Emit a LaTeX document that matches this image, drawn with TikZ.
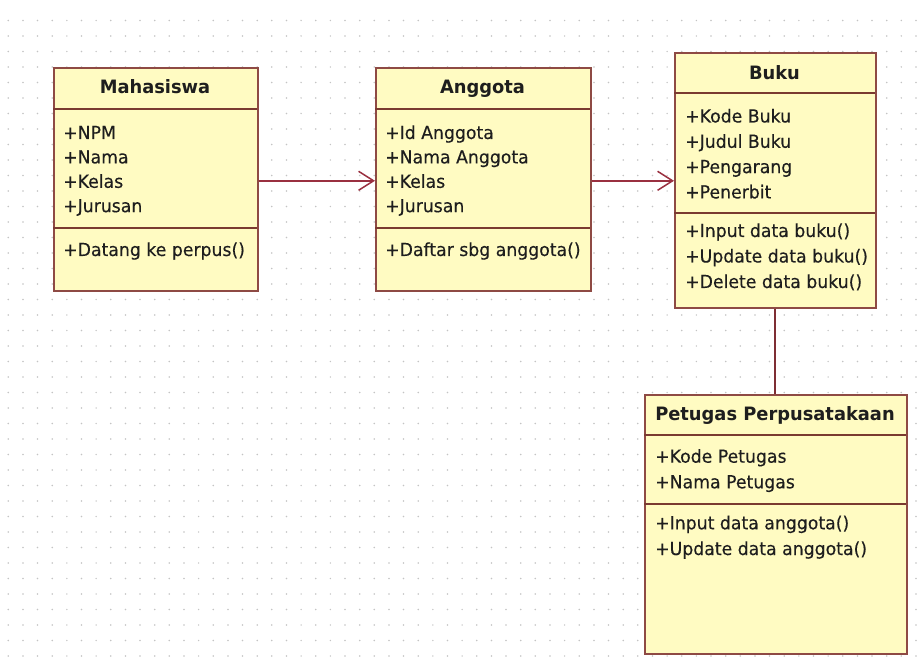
\documentclass[tikz,border=0pt]{standalone}
\usepackage{fontspec}
\setmainfont{DejaVu Sans}
\newfontfamily\memberfont[FakeStretch=0.96,FakeBold=0.3]{DejaVu Sans}
\newfontfamily\titlefont[FakeStretch=0.97]{DejaVu Sans Bold}
\usetikzlibrary{arrows.meta}

\definecolor{umlfill}{HTML}{FFFBC2}
\definecolor{umlborder}{HTML}{8E4A44}
\definecolor{umlsep}{HTML}{7A3A30}
\definecolor{umlline}{HTML}{9A3040}
\definecolor{umllink}{HTML}{7E2E34}
\definecolor{umltext}{HTML}{1E1E1E}
\definecolor{griddot}{HTML}{C4C4C4}

\tikzset{
  classbox/.style={draw=umlborder, fill=umlfill, line width=1.6pt, inner sep=0pt,
    anchor=north west, rectangle},
  sepline/.style={draw=umlsep, line width=1.6pt},
  classname/.style={font=\fontsize{18.4}{21}\titlefont, text=umltext,
    inner sep=0pt, anchor=base},
  member/.style={font=\fontsize{18}{21}\memberfont, text=umltext,
    inner sep=0pt, anchor=base west},
  assoc/.style={draw=umlline, line width=1.5pt},
  navarrow/.style={assoc, -{Straight Barb[length=15pt,width=19pt,line width=1.5pt]}}
}

\begin{document}
\begin{tikzpicture}[x=1pt,y=-1pt]
  % canvas and dotted grid
  \fill[white] (0,0) rectangle (922,668);
  \useasboundingbox (0,0) rectangle (922,668);
  \foreach \i in {0,...,62}{
    \foreach \j in {0,...,41}{
      \fill[griddot] (8.3+14.64*\i, 20.5+15.5*\j) circle (0.85pt);
    }
  }

  % class Mahasiswa
  \node[classbox, minimum width=204pt, minimum height=223pt] (mhs) at (53,67) {};
  \draw[sepline] (53,109) -- (257,109);
  \draw[sepline] (53,228) -- (257,228);
  \node[classname] (mhsT) at (155,94) {Mahasiswa};
  \node[member] (mhs1) at (63,139) {+NPM};
  \node[member] (mhs2) at (63,163.4) {+Nama};
  \node[member] (mhs3) at (63,187.8) {+Kelas};
  \node[member] (mhs4) at (63,212.2) {+Jurusan};
  \node[member] (mhs5) at (63,256) {+Datang ke perpus()};

  % class Anggota
  \node[classbox, minimum width=215pt, minimum height=223pt] (agt) at (375,67) {};
  \draw[sepline] (375,109) -- (590,109);
  \draw[sepline] (375,228) -- (590,228);
  \node[classname] (agtT) at (482.5,94) {Anggota};
  \node[member] (agt1) at (385,139) {+Id Anggota};
  \node[member] (agt2) at (385,163.4) {+Nama Anggota};
  \node[member] (agt3) at (385,187.8) {+Kelas};
  \node[member] (agt4) at (385,212.2) {+Jurusan};
  \node[member] (agt5) at (385,256) {+Daftar sbg anggota()};

  % class Buku
  \node[classbox, minimum width=201pt, minimum height=255pt] (buku) at (674,52) {};
  \draw[sepline] (674,93) -- (875,93);
  \draw[sepline] (674,213) -- (875,213);
  \node[classname] (bukuT) at (774.5,79.5) {Buku};
  \node[member] (buku1) at (685,122.5) {+Kode Buku};
  \node[member] (buku2) at (685,147.8) {+Judul Buku};
  \node[member] (buku3) at (685,173.1) {+Pengarang};
  \node[member] (buku4) at (685,198.4) {+Penerbit};
  \node[member] (buku5) at (685,237) {+Input data buku()};
  \node[member] (buku6) at (685,262.5) {+Update data buku()};
  \node[member] (buku7) at (685,288) {+Delete data buku()};

  % class Petugas Perpusatakaan
  \node[classbox, minimum width=262pt, minimum height=259pt] (ptg) at (644,394) {};
  \draw[sepline] (644,435) -- (906,435);
  \draw[sepline] (644,504) -- (906,504);
  \node[classname] (ptgT) at (775,420.7) {Petugas Perpusatakaan};
  \node[member] (ptg1) at (655,462.7) {+Kode Petugas};
  \node[member] (ptg2) at (655,488.3) {+Nama Petugas};
  \node[member] (ptg3) at (655,529.3) {+Input data anggota()};
  \node[member] (ptg4) at (655,555) {+Update data anggota()};

  % associations
  \draw[navarrow] ([yshift=-1.5pt]mhs.east) -- ([yshift=-1.5pt]agt.west);
  \draw[navarrow] ([yshift=-1.5pt]agt.east) -- ([yshift=-1.5pt]agt.east -| buku.west);
  \draw[assoc, draw=umllink, line width=1.8pt] (buku.south) -- (buku.south |- ptg.north);
\end{tikzpicture}
\end{document}
